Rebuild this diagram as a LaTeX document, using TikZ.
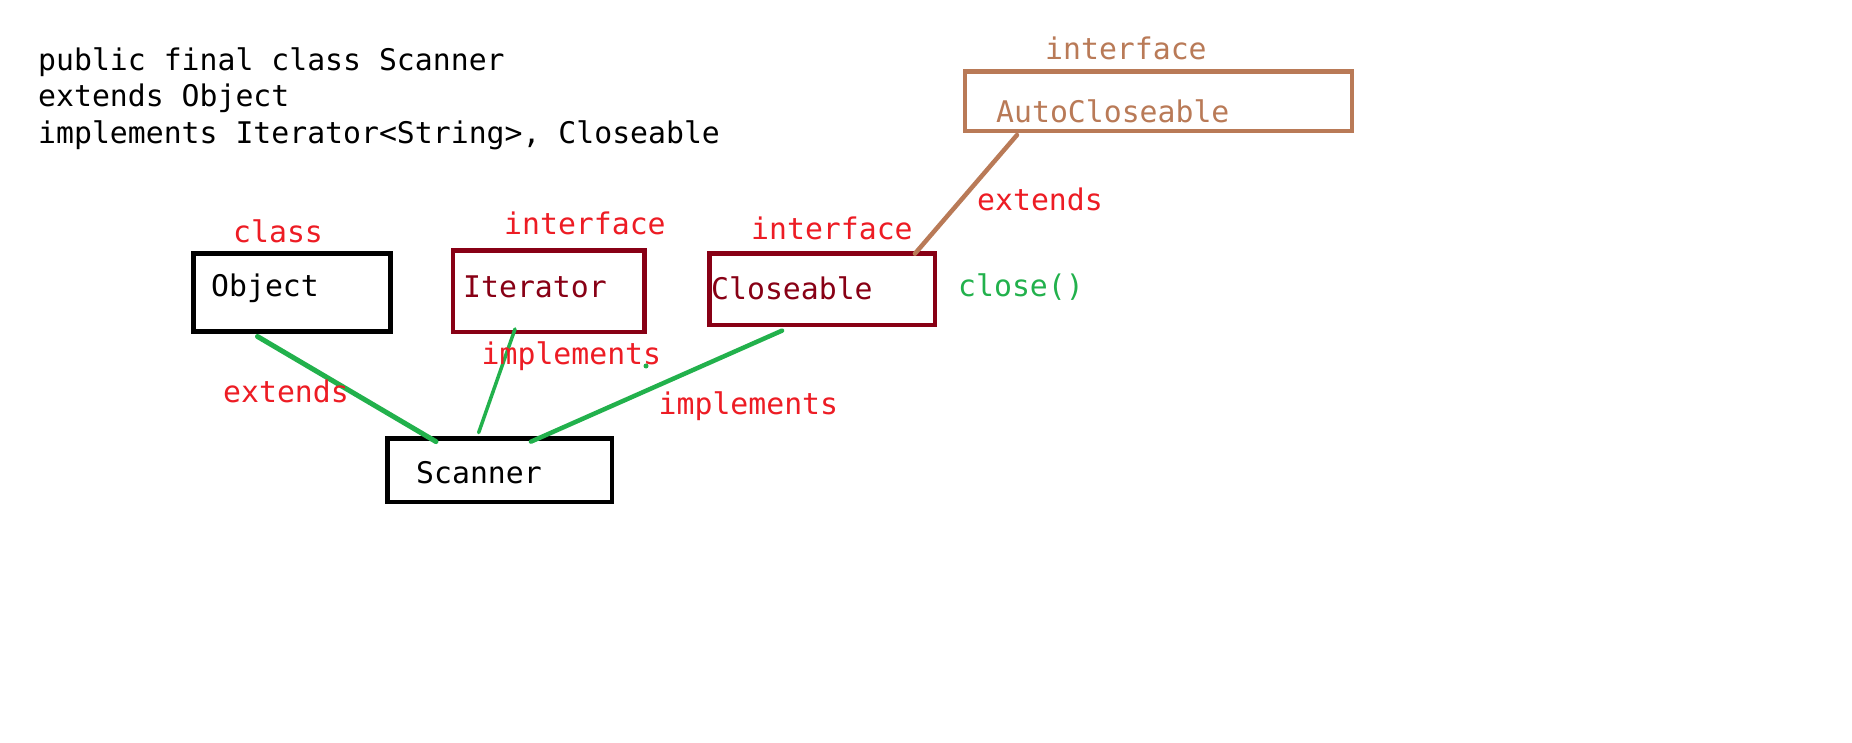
\documentclass[tikz,border=0pt]{standalone}
\usepackage{fontspec}
\setmonofont{DejaVu Sans Mono}
\usetikzlibrary{calc}
\definecolor{pred}{HTML}{ED1C24}
\definecolor{pdark}{HTML}{880015}
\definecolor{pbrown}{HTML}{B97A57}
\definecolor{pgreen}{HTML}{22B14C}
\tikzset{
  txt/.style={anchor=base west,inner sep=0pt,font=\ttfamily\fontsize{29.8}{36}\selectfont},
  box/.style={draw,rectangle,inner sep=0pt,line width=4.7pt},
  link/.style={draw=pgreen,line width=4.5pt,line cap=round},
}
\begin{document}
\begin{tikzpicture}[x=1pt,y=-1pt]
\useasboundingbox[fill=white] (0,0) rectangle (1852,743);
% code text
\node[txt] (l1) at (38,70.7) {public final class Scanner};
\node[txt] (l2) at (38,107) {extends Object};
\node[txt] (l3) at (38,144) {implements Iterator<String>, Closeable};
% boxes
\node[box,draw=black,line width=5pt,minimum width=197pt,minimum height=78.3pt] (obj) at (291.8,292.35) {};
\node[box,draw=pdark,line width=4.5pt,minimum width=191.6pt,minimum height=81.5pt] (itr) at (548.75,291.3) {};
\node[box,draw=pdark,minimum width=225.6pt,minimum height=71.6pt] (clo) at (822.15,289.15) {};
\node[box,draw=pbrown,minimum width=386.9pt,minimum height=59.3pt] (auto) at (1158.4,101.3) {};
\node[box,draw=black,minimum width=224.6pt,minimum height=63.6pt] (scn) at (499.65,470.15) {};
% box texts
\node[txt] (objt) at (211,296) {Object};
\node[txt,text=pdark] (itrt) at (463,297.7) {Iterator};
\node[txt,text=pdark] (clot) at (711,300) {Closeable};
\node[txt,text=pbrown] (autot) at (996,122.7) {AutoCloseable};
\node[txt] (scnt) at (416,483.3) {Scanner};
% stereotype labels
\node[txt,text=pred] (cls) at (233,243) {class};
\node[txt,text=pred] (if1) at (504,234.3) {interface};
\node[txt,text=pred] (if2) at (751,239.3) {interface};
\node[txt,text=pbrown] (if3) at (1045,59.3) {interface};
% connectors
\draw[link,line width=5pt] ($(obj.south west)+(66.7,2.5)$) -- ($(scn.north west)+(51,5.6)$);
\draw[link,line width=3.5pt] ($(itr.south west)+(64.35,-5.35)$) -- ($(scn.north west)+(93.65,-3.35)$);
\draw[link] ($(clo.south west)+(75,3.35)$) -- ($(scn.north west)+(145.95,5.65)$);
\draw[draw=pbrown,line width=4.5pt,line cap=round] ($(auto.south west)+(54.35,1.75)$) -- ($(clo.north west)+(207.95,2.65)$);
% connector labels
\node[txt,text=pred] (ext1) at (223,402.7) {extends};
\node[txt,text=pred] (imp1) at (481.5,364.3) {implements};
\node[txt,text=pred] (imp2) at (658.5,414.7) {implements};
\node[txt,text=pred] (ext2) at (977,210.7) {extends};
\node[txt,text=pgreen] (cl) at (958,296.7) {close()};
% stray dot
\coordinate (dot) at (646,366);
\fill[pgreen] (dot) circle (2.5);
\end{tikzpicture}
\end{document}
